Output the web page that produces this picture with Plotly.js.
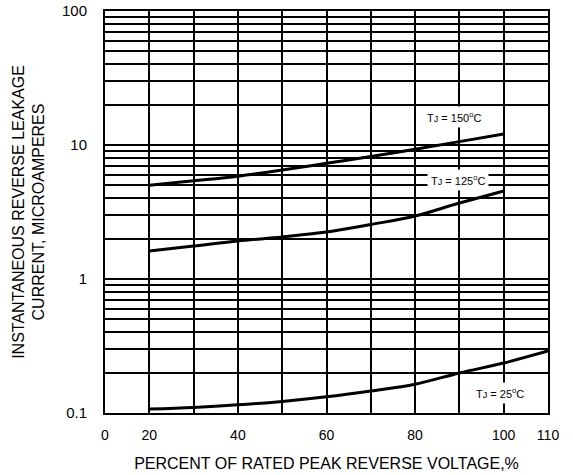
<!DOCTYPE html>
<html>
<head>
<meta charset="utf-8">
<script src="https://cdn.plot.ly/plotly-3.0.1.min.js"></script>
<style>html,body{margin:0;padding:0;background:#fff;}#chart{width:573px;height:475px;}</style>
</head>
<body>
<div id="chart"></div>
<script>
// Data
const voltagePct = [20, 30, 40, 50, 60, 70, 80, 90, 100];
const leak150 = [5.0, 5.4, 5.85, 6.5, 7.3, 8.2, 9.3, 10.6, 12.1];
const leak125 = [1.62, 1.76, 1.92, 2.06, 2.24, 2.55, 2.95, 3.69, 4.54];
const voltage25 = [20, 30, 40, 50, 60, 70, 80, 90, 100, 110];
const leak25 = [0.107, 0.110, 0.115, 0.122, 0.132, 0.146, 0.164, 0.199, 0.236, 0.29];

const xTickVals = [10, 20, 30, 40, 50, 60, 70, 80, 90, 100, 110];
const xTickText = ["0", "20", "", "40", "", "60", "", "80", "", "100", "110"];
const yTickVals = [0.1,0.2,0.3,0.4,0.5,0.6,0.7,0.8,0.9,1,2,3,4,5,6,7,8,9,10,20,30,40,50,60,70,80,90,100];
const yTickText = yTickVals.map(v => ([0.1,1,10,100].includes(v) ? String(v) : ""));

const curveLabels = [
  {text: "T<span style='font-size:9px'>J</span> = 150<sup>o</sup>C", x: 88.7, y: 1.209},
  {text: "T<span style='font-size:9px'>J</span> = 125<sup>o</sup>C", x: 89.6, y: 0.739},
  {text: "T<span style='font-size:9px'>J</span> = 25<sup>o</sup>C", x: 99.2, y: -0.851}
];

const lineStyle = {color: "#000", width: 3, shape: "spline"};
const traces = [
  {x: voltagePct, y: leak150, mode: "lines", line: lineStyle, hoverinfo: "skip"},
  {x: voltagePct, y: leak125, mode: "lines", line: lineStyle, hoverinfo: "skip"},
  {x: voltage25, y: leak25, mode: "lines", line: lineStyle, hoverinfo: "skip"}
];

const layout = {
  width: 573, height: 475,
  margin: {l: 105, r: 25, t: 11, b: 62},
  paper_bgcolor: "#fff", plot_bgcolor: "#fff",
  showlegend: false,
  font: {family: "Liberation Sans, Arial, sans-serif", size: 14, color: "#000"},
  xaxis: {
    range: [10, 110], tickmode: "array", tickvals: xTickVals, ticktext: xTickText,
    showgrid: true, gridcolor: "#000", gridwidth: 2,
    showline: true, linecolor: "#000", linewidth: 2, mirror: true,
    ticks: "", zeroline: false, ticklabelstandoff: 8,
    tickfont: {size: 14},
    title: {text: "PERCENT OF RATED PEAK REVERSE VOLTAGE,%", font: {size: 16}, standoff: 16}
  },
  yaxis: {
    type: "log", range: [-1, 2], tickmode: "array", tickvals: yTickVals, ticktext: yTickText,
    showgrid: true, gridcolor: "#000", gridwidth: 2,
    showline: true, linecolor: "#000", linewidth: 2, mirror: true,
    ticks: "", zeroline: false, ticklabelstandoff: 13,
    tickfont: {size: 15},
    title: {text: "INSTANTANEOUS REVERSE LEAKAGE<br>CURRENT, MICROAMPERES", font: {size: 16}, standoff: 13}
  },
  annotations: curveLabels.map(a => ({
    text: a.text, x: a.x, y: a.y, xref: "x", yref: "y", showarrow: false,
    font: {family: "Liberation Sans Narrow, Arial Narrow, sans-serif", size: 11, color: "#000"},
    bgcolor: "#fff", borderpad: 3
  }))
};

Plotly.newPlot("chart", traces, layout, {displayModeBar: false, staticPlot: true});
</script>
</body>
</html>
